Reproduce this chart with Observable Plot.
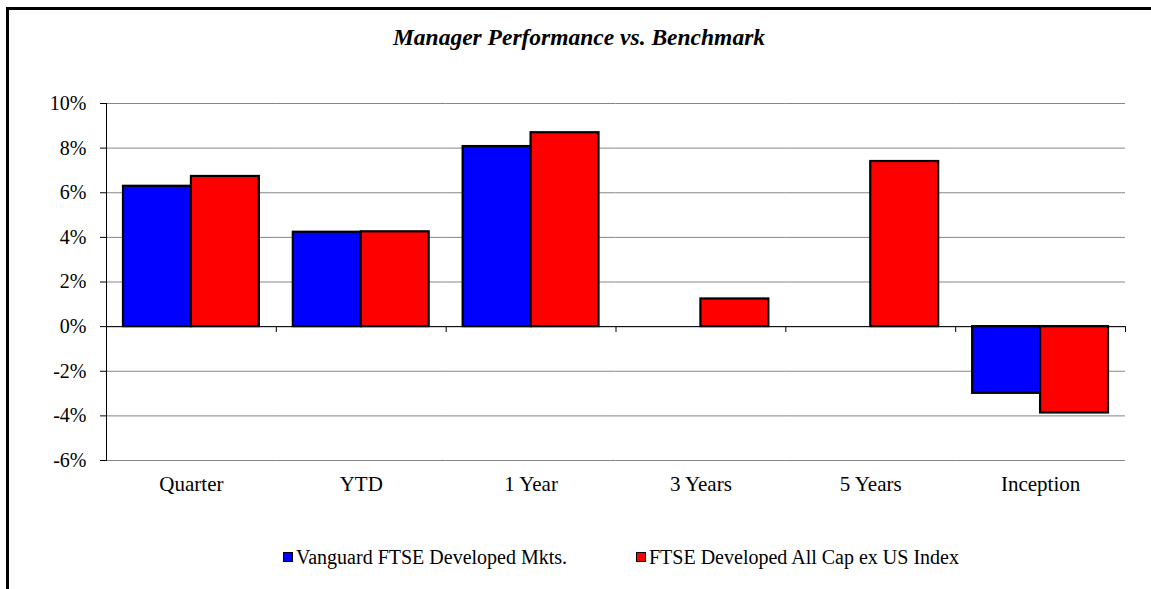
<!DOCTYPE html>
<html>
<head>
<meta charset="utf-8">
<script src="https://cdn.jsdelivr.net/npm/d3@7"></script>
<script src="https://cdn.jsdelivr.net/npm/@observablehq/plot@0.6"></script>
<style>
  html, body { margin: 0; padding: 0; background: #fff; }
  #wrap { position: relative; width: 1151px; height: 589px; overflow: hidden; font-family: "Liberation Serif", "Times New Roman", serif; }
  #box { position: absolute; left: 6px; top: 7px; width: 1200px; height: 700px; border-left: 3px solid #000; border-top: 3px solid #000; }
  #title { position: absolute; left: 0; width: 1158px; top: 23px; text-align: center; font-size: 23.5px; line-height: 28px; font-weight: bold; font-style: italic; color: #000; }
  #chart { position: absolute; left: 0; top: 0; }
  .leg { position: absolute; top: 545px; font-size: 20px; line-height: 24px; color: #000; display: flex; align-items: center; white-space: nowrap; }
  .sw { width: 8px; height: 8px; border: 1.5px solid #000; margin-right: 3px; }
</style>
</head>
<body>
<div id="wrap">
  <div id="box"></div>
  <div id="chart"></div>
  <div id="title">Manager Performance vs. Benchmark</div>
  <div class="leg" id="leg0" style="left:283px"><div class="sw" style="background:#0000ff"></div><span>Vanguard FTSE Developed Mkts.</span></div>
  <div class="leg" id="leg1" style="left:636px"><div class="sw" style="background:#ff0000"></div><span>FTSE Developed All Cap ex US Index</span></div>
</div>
<script>
const categories = ["Quarter", "YTD", "1 Year", "3 Years", "5 Years", "Inception"];
const series = ["Vanguard FTSE Developed Mkts.", "FTSE Developed All Cap ex US Index"];
const managerValues = [6.29, 4.23, 8.07, null, null, -2.99];
const benchmarkValues = [6.73, 4.25, 8.69, 1.24, 7.40, -3.87];
const colors = ["#0000ff", "#ff0000"];
const yTicks = [-6, -4, -2, 0, 2, 4, 6, 8, 10];

const rows = [];
categories.forEach((c, i) => {
  if (managerValues[i] != null) rows.push({category: c, series: series[0], value: managerValues[i]});
  if (benchmarkValues[i] != null) rows.push({category: c, series: series[1], value: benchmarkValues[i]});
});

const serif = "Liberation Serif";
const tickShape = { draw(context, l) { context.moveTo(0, 0); context.lineTo(0, -l); } };

const chart = Plot.plot({
  width: 1151,
  height: 589,
  marginTop: 103,
  marginBottom: 129,
  marginLeft: 106,
  marginRight: 26,
  style: { fontFamily: serif, fontSize: "20px", background: "transparent", color: "#000" },
  fx: { domain: categories, padding: 0, round: false, axis: null },
  x: { domain: series, paddingInner: 0, paddingOuter: 0.25, round: false, axis: null },
  y: { domain: [-6, 10], ticks: yTicks, axis: null, label: null },
  color: { domain: series, range: colors },
  marks: [
    Plot.gridY(yTicks, { stroke: "#868686", strokeOpacity: 1, strokeWidth: 1 }),
    Plot.axisY(yTicks, { label: null, text: null, tickSize: 6, stroke: "#000", facetAnchor: "left" }),
    Plot.text(yTicks, { y: d => d, frameAnchor: "left", dx: -20, textAnchor: "end", text: d => d + "%", fontSize: 20, fontFamily: serif, fill: "#000", facetAnchor: "left" }),
    Plot.barY(rows, { fx: "category", x: "series", y: "value", fill: "series", stroke: "#000", strokeWidth: 2.2 }),
    Plot.ruleY([0], { stroke: "#000", strokeWidth: 1 }),
    Plot.frame({ anchor: "left", facetAnchor: "left", stroke: "#000" }),
    Plot.vector(categories, { fx: d => d, y: () => 0, frameAnchor: "right", length: 5, rotate: 180, anchor: "start", shape: tickShape, stroke: "#000", strokeWidth: 1 }),
    Plot.text(categories, { fx: d => d, frameAnchor: "bottom", dy: 30, text: d => d, fontSize: 21, fontFamily: serif, fill: "#000" })
  ]
});
document.getElementById("chart").appendChild(chart);
</script>
</body>
</html>
